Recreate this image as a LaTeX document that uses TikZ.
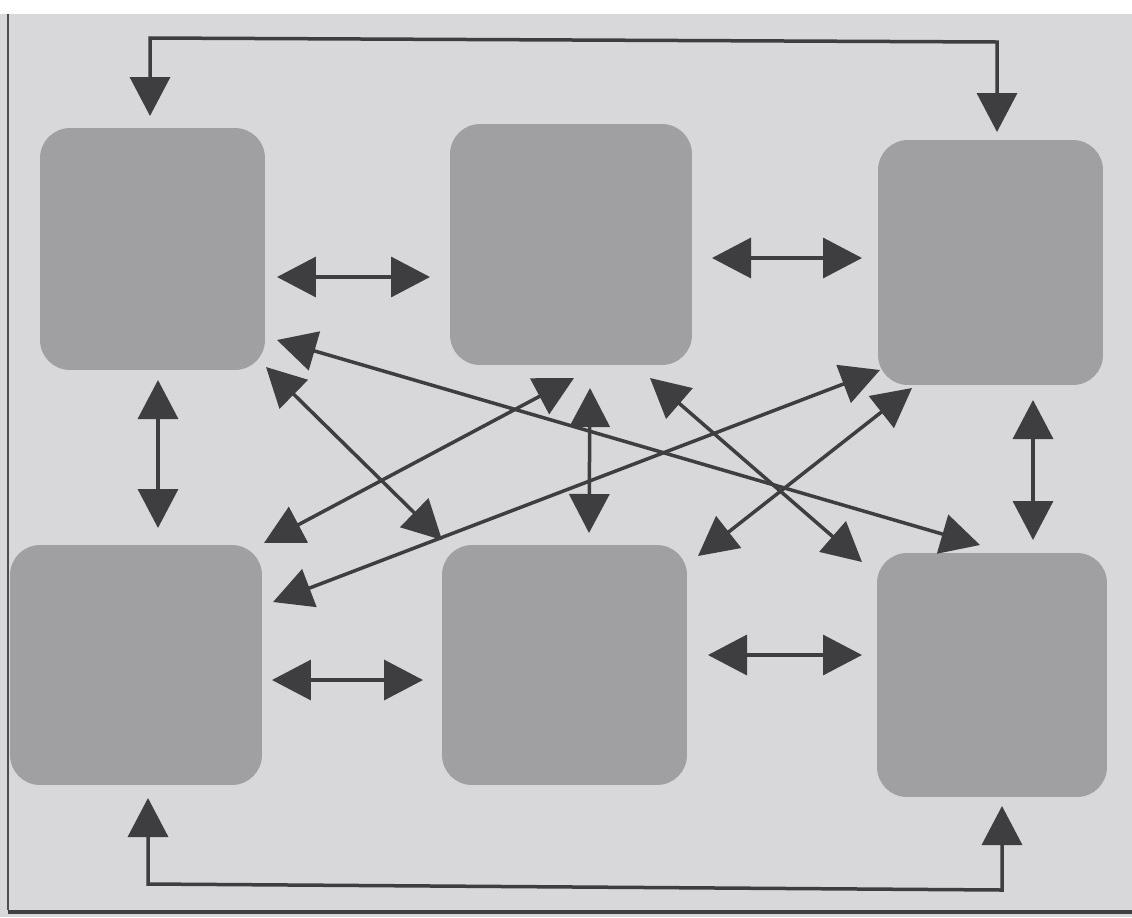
\documentclass[tikz,border=0pt]{standalone}
\usetikzlibrary{arrows.meta}
\definecolor{bg}{RGB}{216,216,219}
\definecolor{boxc}{RGB}{160,160,162}
\definecolor{arrc}{RGB}{62,62,64}
\begin{document}
\begin{tikzpicture}[x=0.02cm,y=-0.02cm,
  box/.style={fill=boxc, draw=none, rounded corners=0.6cm, inner sep=0pt},
  arr/.style={draw=arrc, line width=0.07cm, line join=miter,
    {Triangle[length=0.78cm,width=0.8cm]}-{Triangle[length=0.78cm,width=0.8cm]}},
  arrone/.style={draw=arrc, line width=0.07cm, line join=miter,
    -{Triangle[length=0.78cm,width=0.8cm]}}]
\useasboundingbox (0,0) rectangle (1132,917);
\fill[white] (0,0) rectangle (1132,14);
\fill[bg] (0,14) rectangle (1132,917);
\draw[gray!60!black, line width=0.06cm] (8,14) -- (8,910);
\draw[gray!50!black, line width=0.08cm] (8,912) -- (1132,912);
% boxes
\node[box, minimum width=4.5cm, minimum height=4.84cm] (TL) at (152.5,249) {};
\node[box, minimum width=4.84cm, minimum height=4.82cm] (TM) at (571,244.5) {};
\node[box, minimum width=4.5cm, minimum height=4.9cm] (TR) at (990.5,262.5) {};
\node[box, minimum width=5.04cm, minimum height=4.8cm] (BL) at (136,665) {};
\node[box, minimum width=4.9cm, minimum height=4.8cm] (BM) at (564.5,665) {};
\node[box, minimum width=4.6cm, minimum height=4.88cm] (BR) at (992,675) {};
% arrow end points
\coordinate (a1) at (277,277); \coordinate (a2) at (430,277);
\coordinate (b1) at (712,258); \coordinate (b2) at (862,258);
\coordinate (c1) at (272,680); \coordinate (c2) at (423,680);
\coordinate (d1) at (708,655); \coordinate (d2) at (862,655);
\coordinate (e1) at (158,380); \coordinate (e2) at (158,528);
\coordinate (f1) at (1033,400); \coordinate (f2) at (1033,540);
\coordinate (g1) at (590,388); \coordinate (g2) at (589,533);
\coordinate (h1) at (277,340); \coordinate (h2) at (980,545);
\coordinate (i1) at (266,367); \coordinate (i2) at (442,540);
\coordinate (j1) at (264,543); \coordinate (j2) at (574,378);
\coordinate (k1) at (273,602); \coordinate (k2) at (880,370);
\coordinate (l1) at (650,378); \coordinate (l2) at (862,562);
\coordinate (m1) at (698,556); \coordinate (m2) at (912,388);
\coordinate (t1) at (150,116); \coordinate (t2) at (150,38);
\coordinate (t3) at (997,42); \coordinate (t4) at (997,132);
\coordinate (u1) at (148,798); \coordinate (u2) at (148,884);
\coordinate (u3) at (1002,890); \coordinate (u4) at (1002,806);
% connectors
\draw[arr] (a1) -- (a2);
\draw[arr] (b1) -- (b2);
\draw[arr] (c1) -- (c2);
\draw[arr] (d1) -- (d2);
\draw[arr] (e1) -- (e2);
\draw[arr] (f1) -- (f2);
\draw[arr] (g1) -- (g2);
\draw[arr] (h1) -- (h2);
\draw[arr] (i1) -- (i2);
\draw[arr] (j1) -- (j2);
\draw[arr] (k1) -- (k2);
\draw[arr] (l1) -- (l2);
\draw[arr] (m1) -- (m2);
\draw[arr] (t1) -- (t2) -- (t3) -- (t4);
\draw[arr] (u1) -- (u2) -- (u3) -- (u4);
\end{tikzpicture}
\end{document}
